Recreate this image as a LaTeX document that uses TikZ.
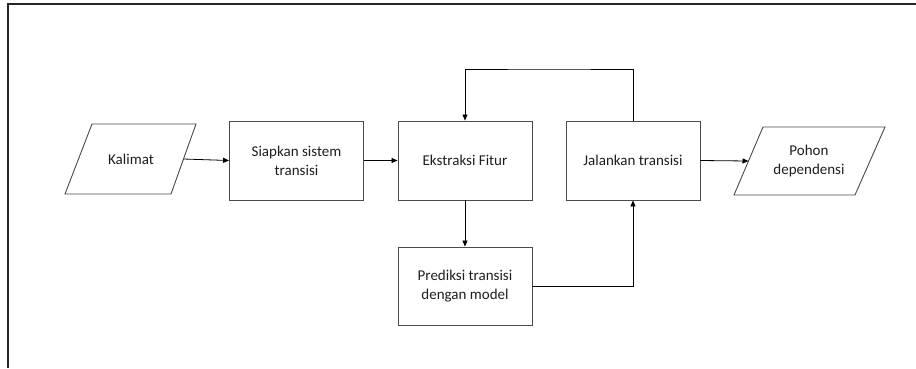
\documentclass[tikz,border=0pt]{standalone}
\usepackage{fontspec}
\setmainfont{Carlito}
\usetikzlibrary{arrows.meta}
\definecolor{edge}{HTML}{4A4A4A}
\definecolor{ink}{HTML}{1E1E1E}
\tikzset{
  procbox/.style={draw=edge, line width=0.9pt, minimum width=134pt, minimum height=79pt,
    inner sep=0pt, align=center, text=ink, font=\fontsize{15}{19}\selectfont},
  iotext/.style={inner sep=0pt, align=center, text=ink, font=\fontsize{15}{19}\selectfont},
  ioshape/.style={draw=edge, line width=0.9pt, line join=miter},
  flow/.style={draw=black, line width=0.8pt, -{Triangle[length=6pt,width=5pt]}},
  frameline/.style={draw=black!85, line width=2.2pt}
}
\begin{document}
\begin{tikzpicture}[x=1pt,y=-1pt]
  \useasboundingbox (0,0) rectangle (916,368);
  % outer frame (top and left edges)
  \draw[frameline] (916,4) -- (8,4) -- (8,368);

  % input parallelogram
  \draw[ioshape] (92,124) -- (196,124) -- (171,194) -- (65,194) -- cycle;
  \node[iotext] (kal) at (131,159) {Kalimat};
  \coordinate (kalout) at (183.5,159);

  % process steps
  \node[procbox] (siap) at (296.5,160.5) {Siapkan sistem\\transisi};
  \node[procbox] (ek) at (465,160.5) {Ekstraksi Fitur};
  \node[procbox] (jal) at (633,160.5) {Jalankan transisi};
  \node[procbox, minimum height=78pt] (pred) at (465,286) {Prediksi transisi\\dengan model};

  % output parallelogram
  \draw[ioshape] (763,127) -- (885,127) -- (855,195) -- (734,195) -- cycle;
  \node[iotext] (poh) at (809,160.5) {Pohon\\dependensi};
  \coordinate (pohin) at (748.5,161);

  % connectors
  \coordinate (loop) at (549,69);
  \draw[flow] (kalout) -- (siap.west);
  \draw[flow] (siap.east) -- (ek.west);
  \draw[flow] (ek.south) -- (pred.north);
  \draw[flow] (pred.east) -| (jal.south);
  \draw[flow] (jal.north) |- (loop) -| (ek.north);
  \draw[flow] (jal.east) -- (pohin);
\end{tikzpicture}
\end{document}
